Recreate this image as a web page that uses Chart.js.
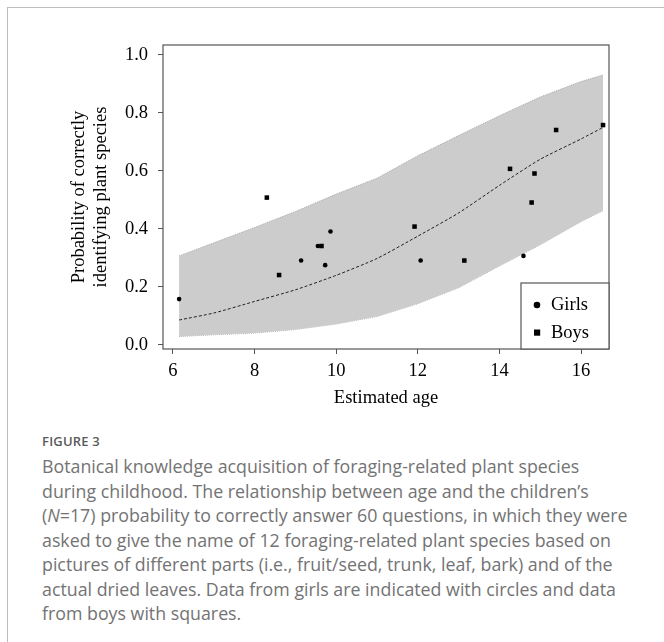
<!DOCTYPE html>
<html>
<head>
<meta charset="utf-8">
<script src="https://cdnjs.cloudflare.com/ajax/libs/Chart.js/4.4.0/chart.umd.min.js"></script>
<style>
  html,body{margin:0;padding:0;background:#fff;}
  body{width:664px;height:642px;position:relative;overflow:hidden;}
  .frame{position:absolute;left:7px;top:7px;right:-10px;bottom:-10px;border-left:1.5px solid #bdbdbd;border-top:1.5px solid #bdbdbd;}
  #wrap{position:absolute;left:0;top:0;width:664px;height:420px;}
  .fig{position:absolute;left:42px;top:432px;font-family:"Open Sans",sans-serif;font-size:13px;font-weight:600;color:#5a5a5a;letter-spacing:0.2px;}
  .cap{position:absolute;left:42px;top:454px;font-family:"Open Sans",sans-serif;font-size:17.8px;line-height:24.5px;color:#737373;white-space:nowrap;}
</style>
</head>
<body>
<div class="frame"></div>
<div id="wrap"><canvas id="c-age" width="664" height="420"></canvas></div>
<div class="fig">FIGURE 3</div>
<div class="cap">Botanical knowledge acquisition of foraging-related plant species<br>during childhood. The relationship between age and the children’s<br>(<i>N</i>=17) probability to correctly answer 60 questions, in which they were<br>asked to give the name of 12 foraging-related plant species based on<br>pictures of different parts (i.e., fruit/seed, trunk, leaf, bark) and of the<br>actual dried leaves. Data from girls are indicated with circles and data<br>from boys with squares.</div>
<script>
// observed children
const girlsAge  = [6.15, 9.14, 9.55, 9.73, 9.86, 12.07, 14.59];
const girlsProb = [0.158, 0.291, 0.341, 0.275, 0.391, 0.291, 0.307];
const boysAge   = [8.30, 8.60, 9.64, 11.92, 13.14, 14.26, 14.79, 14.86, 15.39, 16.54];
const boysProb  = [0.508, 0.241, 0.341, 0.408, 0.291, 0.607, 0.491, 0.591, 0.741, 0.758];

// fitted curve and confidence band
const curveAge  = [6.15, 7, 8, 9, 10, 11, 12, 13, 14, 15, 16, 16.54];
const fitProb   = [0.086, 0.11, 0.15, 0.19, 0.24, 0.298, 0.375, 0.455, 0.55, 0.64, 0.71, 0.75];
const upperProb = [0.307, 0.352, 0.405, 0.46, 0.52, 0.575, 0.652, 0.722, 0.79, 0.855, 0.908, 0.931];
const lowerProb = [0.029, 0.035, 0.041, 0.053, 0.072, 0.098, 0.142, 0.197, 0.272, 0.345, 0.425, 0.463];

const xTicks = [6, 8, 10, 12, 14, 16];
const yTicks = [0, 0.2, 0.4, 0.6, 0.8, 1.0];

const SERIF = '"Liberation Serif","Times New Roman",serif';
const pts = (xs, ys) => xs.map((x,i)=>({x, y:ys[i]}));

const boxLegend = {
  id:'boxLegend',
  afterDraw(chart){
    const {ctx, chartArea:a} = chart;
    ctx.save();
    ctx.strokeStyle='#555'; ctx.lineWidth=1.2;
    ctx.strokeRect(a.left, a.top, a.right-a.left, a.bottom-a.top);
    // legend box, bottom-right corner
    const lw=88, lh=66, lx=a.right-lw, ly=a.bottom-lh;
    ctx.fillStyle='#fff'; ctx.fillRect(lx, ly, lw, lh);
    ctx.strokeRect(lx, ly, lw, lh);
    ctx.fillStyle='#000';
    ctx.beginPath(); ctx.arc(lx+16, ly+22, 3.3, 0, Math.PI*2); ctx.fill();
    ctx.fillRect(lx+13, ly+46.5, 6.2, 6.2);
    ctx.font='18.5px '+SERIF; ctx.textBaseline='middle';
    ctx.fillText('Girls', lx+30, ly+22);
    ctx.fillText('Boys',  lx+30, ly+50);
    ctx.restore();
  }
};

new Chart(document.getElementById('c-age'), {
  type:'scatter',
  data:{
    datasets:[
      { label:'Girls', order:0, data:pts(girlsAge, girlsProb), pointStyle:'circle', pointRadius:2.3,
        backgroundColor:'#000', borderColor:'#000', borderWidth:0 },
      { label:'Boys', order:0, data:pts(boysAge, boysProb), pointStyle:'rect', pointRadius:3.2,
        backgroundColor:'#000', borderColor:'#000', borderWidth:0 },
      { type:'line', label:'fit', order:1, data:pts(curveAge, fitProb), fill:false,
        borderColor:'#222', borderWidth:1, borderDash:[3,2], pointRadius:0, tension:0.2 },
      { type:'line', label:'upper', order:2, data:pts(curveAge, upperProb), fill:'+1',
        backgroundColor:'#cccccc', borderColor:'#9a9a9a', borderWidth:0.8, borderDash:[1,1],
        pointRadius:0, tension:0 },
      { type:'line', label:'lower', order:3, data:pts(curveAge, lowerProb), fill:false,
        borderColor:'#9a9a9a', borderWidth:0.8, borderDash:[1,1], pointRadius:0, tension:0 },
    ]
  },
  options:{
    responsive:false, animation:false, devicePixelRatio:1,
    layout:{ padding:{ left:0, top:45, right:55, bottom:0 } },
    plugins:{ legend:{display:false}, tooltip:{enabled:false} },
    scales:{
      x:{
        type:'linear', min:5.755, max:16.686,
        afterBuildTicks:s=>{ s.ticks = xTicks.map(v=>({value:v})); },
        afterFit:s=>{ s.height = 71; },
        grid:{ drawOnChartArea:false, drawTicks:true, tickLength:5, tickColor:'#555' },
        border:{ display:false },
        ticks:{ color:'#000', font:{family:SERIF, size:18.5}, padding:6, maxRotation:0,
                callback:v=>String(v) },
        title:{ display:true, text:'Estimated age', color:'#000',
                font:{family:SERIF, size:18.5}, padding:{top:0, bottom:11} }
      },
      y:{
        type:'linear', min:-0.014, max:1.034,
        afterBuildTicks:s=>{ s.ticks = yTicks.map(v=>({value:v})); },
        afterFit:s=>{ s.width = 163; },
        grid:{ drawOnChartArea:false, drawTicks:true, tickLength:5, tickColor:'#555' },
        border:{ display:false },
        ticks:{ color:'#000', font:{family:SERIF, size:18.5}, padding:10,
                callback:v=>(+v).toFixed(1) },
        title:{ display:true, text:['Probability of correctly','identifying plant species'], color:'#000',
                font:{family:SERIF, size:18.5}, padding:{top:68, bottom:0} }
      }
    }
  },
  plugins:[boxLegend]
});
</script>
</body>
</html>
